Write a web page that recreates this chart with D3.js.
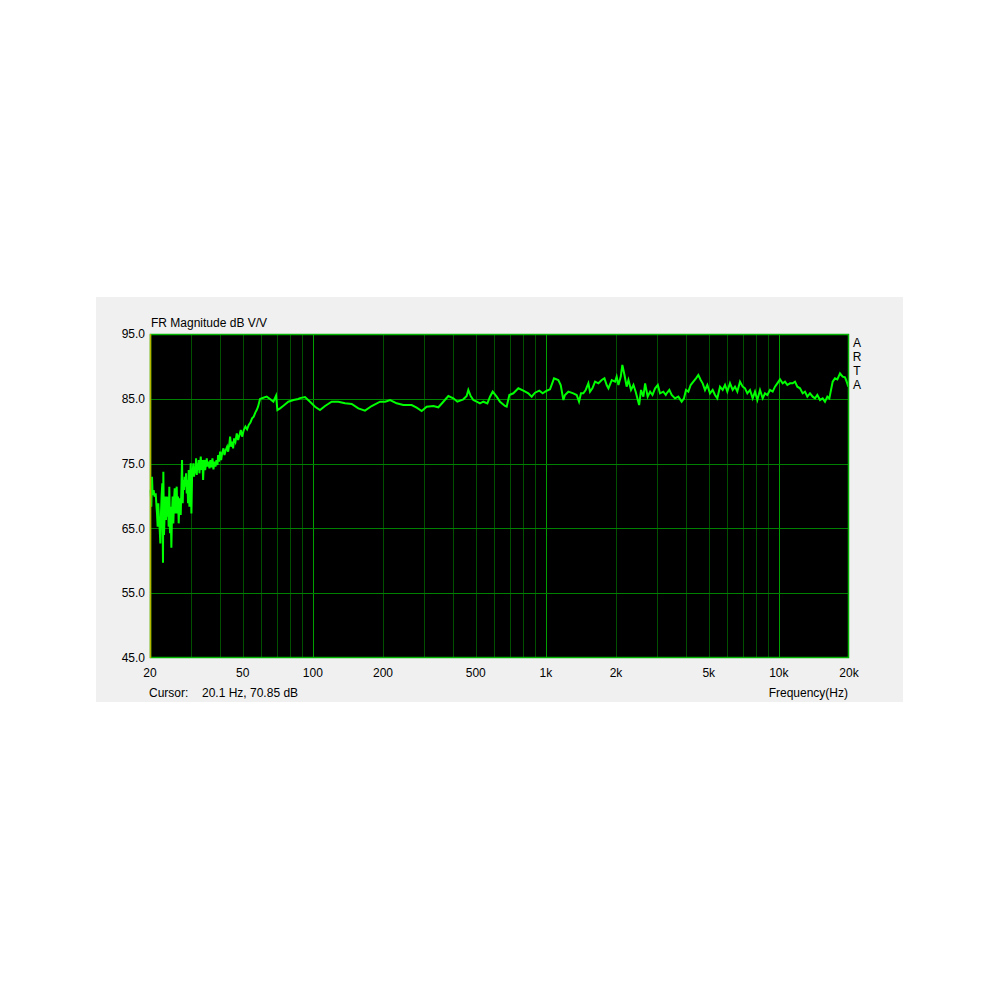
<!DOCTYPE html>
<html>
<head>
<meta charset="utf-8">
<script src="https://cdn.jsdelivr.net/npm/d3@7"></script>
<style>
  body { margin: 0; background: #fff; }
  text { font-family: "Liberation Sans", Arial, sans-serif; font-size: 12px; fill: #000; }
</style>
</head>
<body>
<svg id="chart"></svg>
<script>
// Frequency response (Hz, dB)
const freqs = [
  20.13, 20.26, 20.40, 20.53, 20.73, 20.94, 21.15, 21.43, 21.57, 21.71, 21.86, 22.00, 22.15, 22.29, 22.44, 22.59,
  22.74, 22.82, 22.97, 23.12, 23.27, 23.42, 23.58, 23.74, 23.89, 24.05, 24.21, 24.37, 24.53, 24.70, 24.86, 25.02,
  25.19, 25.36, 25.53, 25.70, 25.87, 26.04, 26.21, 26.38, 26.56, 26.73, 26.91, 27.09, 27.27, 27.45, 27.63, 27.81,
  28.00, 28.18, 28.37, 28.56, 28.75, 28.94, 29.13, 29.32, 29.52, 29.71, 29.91, 30.11, 30.31, 30.51, 30.71, 30.92,
  31.12, 31.33, 31.54, 31.75, 31.95, 32.17, 32.38, 32.59, 32.81, 33.03, 33.25, 33.58, 33.80, 34.03, 34.25, 34.48,
  34.82, 35.05, 35.28, 35.63, 35.99, 36.34, 36.71, 37.07, 37.44, 37.81, 38.19, 38.57, 38.95, 39.21, 39.59, 39.99,
  40.39, 40.79, 41.33, 41.74, 42.29, 42.85, 43.28, 43.85, 44.14, 44.58, 45.02, 45.47, 45.92, 46.53, 47.15, 47.77,
  48.41, 49.05, 49.70, 50.52, 51.36, 52.21, 53.07, 53.95, 54.84, 55.74, 56.67, 57.41, 58.17,
  59.33, 61.31, 63.37, 65.49, 67.70, 69.51, 70.43, 72.32, 74.75, 78.49, 82.53, 86.65,
  88.07, 92.53, 97.22, 102.2, 107.3, 112.8, 120.4, 128.6, 137.4, 146.8, 156.7, 167.4, 178.8, 194.4, 204.3, 214.6,
  228.9, 244.5, 265.5, 279.0, 293.1, 307.9, 328.9, 345.6, 363.1, 381.5, 400.8, 417.0, 442.4, 457.2, 464.8, 475.7,
  488.4, 504.7, 521.6, 539.1, 560.9, 575.8, 591.2, 615.0, 635.6, 667.8, 678.9, 697.1, 725.2, 761.9, 800.5, 841.1,
  869.2, 898.3, 937.6, 969.0, 1008, 1042, 1084, 1131, 1158, 1189,
  1208, 1249, 1312, 1356, 1388, 1415, 1448, 1482, 1522, 1547, 1584, 1626, 1681, 1737, 1784, 1824,
  1856, 1918, 1982, 2013, 2049, 2097, 2129, 2175, 2222, 2262, 2320, 2377, 2429, 2514, 2561, 2621,
  2667, 2735, 2802, 2868, 2944, 3023, 3090, 3193, 3271,
  3300, 3388, 3467, 3583, 3703, 3827, 3916, 3995, 4088, 4183, 4295, 4409, 4512, 4618, 4710, 4820,
  4932, 5064, 5199, 5320, 5444, 5590, 5739, 5873, 6010, 6170, 6335, 6483, 6634, 6811, 6993, 7156,
  7323, 7519, 7720, 7900, 8084, 8300, 8522, 8720, 8924, 9162, 9407, 9626, 9851, 10114, 10384, 10626,
  10874, 11164, 11462, 11730, 12004, 12324, 12653, 12948, 13250, 13604, 13967, 14293, 14626, 15017, 15418, 15777,
  16146, 16468, 16687, 17020, 17417, 17823, 18299, 18788, 19226, 19545, 19870
];
const levels = [
  70.92, 68.35, 72.98, 70.15, 70.92, 69.90, 70.41, 67.32, 65.27, 68.87, 66.30, 65.01, 62.69, 67.32, 70.15, 71.95,
  59.71, 73.75, 63.98, 67.32, 69.90, 66.30, 69.90, 66.81, 69.90, 65.27, 71.44, 64.24, 68.35, 62.03, 67.32, 69.90,
  65.78, 69.38, 71.18, 67.32, 70.15, 71.44, 67.32, 69.90, 65.78, 68.87, 69.64, 67.07, 70.92, 75.55, 68.87, 72.47,
  70.92, 72.98, 71.44, 73.50, 70.41, 72.47, 68.87, 74.01, 68.35, 72.47, 75.04, 67.32, 72.98, 74.01, 75.04, 72.98,
  74.53, 73.50, 75.81, 73.24, 75.04, 74.01, 75.55, 73.50, 74.78, 76.07, 74.01, 75.55, 72.47, 75.04, 75.55, 74.01,
  75.04, 75.81, 74.53, 75.30, 74.27, 75.55, 74.42, 75.81, 74.11, 75.30, 74.53, 75.55, 74.78, 76.33, 75.30, 76.84,
  75.55, 76.58, 77.35, 76.33, 77.10, 77.61, 76.84, 78.13, 79.16, 77.61, 78.38, 77.35, 78.90, 78.38, 79.67, 78.64,
  79.41, 80.18, 79.16, 80.18, 80.70, 80.29, 80.96, 81.32, 81.98, 82.24, 82.91, 83.27, 83.79,
  84.97, 85.17, 85.33, 84.97, 84.55, 85.48, 83.27, 83.53, 83.94, 84.55, 84.81, 84.97,
  85.11, 85.26, 84.55, 83.78, 83.27, 83.89, 84.55, 84.55, 84.30, 84.20, 83.53, 83.17, 83.89, 84.55, 84.55, 84.81,
  84.30, 84.04, 84.04, 83.63, 83.12, 83.78, 83.89, 83.69, 84.55, 85.43, 85.07, 84.55, 84.92, 85.43, 86.36, 85.43,
  84.81, 84.55, 84.30, 84.55, 84.30, 85.33, 86.10, 85.33, 84.55, 83.89, 83.78, 85.59, 85.85, 86.62, 86.25, 85.85,
  85.33, 85.94, 86.25, 85.85, 86.25, 86.46, 88.16, 87.90, 87.13, 84.81,
  85.59, 86.10, 85.84, 85.59, 84.56, 85.84, 85.84, 86.36, 87.39, 86.10, 86.62, 87.65, 87.39, 87.90, 88.16, 87.13,
  86.62, 87.90, 87.65, 88.42, 87.13, 88.42, 90.22, 88.67, 86.87, 87.90, 86.36, 87.13, 86.10, 84.04, 86.36, 85.33,
  87.39, 85.33, 86.10, 85.59, 86.62, 87.13, 85.84, 86.10, 85.59,
  85.84, 86.36, 85.59, 85.07, 85.33, 84.56, 85.07, 86.36, 86.10, 87.13, 87.64, 88.16, 88.67, 87.90, 87.39, 86.36,
  87.13, 85.84, 86.36, 85.59, 85.07, 86.87, 86.36, 87.13, 86.10, 87.39, 86.36, 86.87, 86.10, 87.64, 86.87, 86.62,
  85.84, 86.36, 85.07, 86.10, 84.81, 86.36, 85.07, 85.84, 85.59, 86.36, 86.10, 86.87, 87.39, 88.00, 87.39, 87.64,
  87.13, 87.39, 87.39, 87.64, 86.87, 86.62, 85.84, 86.10, 85.33, 85.84, 85.33, 85.07, 85.59, 84.81, 85.07, 84.56,
  85.33, 85.07, 86.10, 87.64, 88.16, 88.00, 88.93, 88.42, 88.31, 87.64, 86.87
];

const xTicks = [20, 50, 100, 200, 500, 1000, 2000, 5000, 10000, 20000];
const xTickLabels = ["20", "50", "100", "200", "500", "1k", "2k", "5k", "10k", "20k"];
const yTicks = [45, 55, 65, 75, 85, 95];
const decades = [100, 1000, 10000];

const width = 1000, height = 1000;
const plot = { left: 150, right: 849, top: 334, bottom: 658 };

const svg = d3.select("#chart")
  .attr("width", width)
  .attr("height", height)
  .attr("viewBox", [0, 0, width, height]);

// Grey panel
svg.append("rect")
  .attr("x", 96).attr("y", 297)
  .attr("width", 807).attr("height", 405)
  .attr("fill", "#f0f0f0");

let x = d3.scaleLog().domain([20, 20000]).range([plot.left, plot.right]);
let y = d3.scaleLinear().domain([45, 95]).range([plot.bottom, plot.top]);

// Plot background
svg.append("rect")
  .attr("x", plot.left).attr("y", plot.top)
  .attr("width", plot.right - plot.left).attr("height", plot.bottom - plot.top)
  .attr("fill", "#000");

// Vertical grid (1..9 per decade), decades brighter
let gridX = x.ticks().filter((d) => d > 20 && d < 20000);
svg.append("g").selectAll("line").data(gridX).join("line")
  .attr("x1", (d) => Math.round(x(d)) + 0.5)
  .attr("x2", (d) => Math.round(x(d)) + 0.5)
  .attr("y1", plot.top)
  .attr("y2", plot.bottom)
  .attr("stroke", (d) => decades.includes(Math.round(d)) ? "#00a000" : "#005000")
  .attr("stroke-width", 1);

// Horizontal grid
svg.append("g").selectAll("line").data(yTicks.filter((d) => d > 45 && d < 95)).join("line")
  .attr("x1", plot.left)
  .attr("x2", plot.right)
  .attr("y1", (d) => Math.round(y(d)) + 0.5)
  .attr("y2", (d) => Math.round(y(d)) + 0.5)
  .attr("stroke", "#008000")
  .attr("stroke-width", 1);

// Curve
let line = d3.line()
  .x((d, i) => x(freqs[i]))
  .y((d, i) => y(levels[i]));

svg.append("path")
  .datum(freqs)
  .attr("d", line)
  .attr("fill", "none")
  .attr("stroke", "#00ff00")
  .attr("stroke-width", 2)
  .attr("stroke-linejoin", "miter");

// Plot frame
svg.append("rect")
  .attr("x", plot.left + 0.5).attr("y", plot.top + 0.5)
  .attr("width", plot.right - plot.left - 1).attr("height", plot.bottom - plot.top - 1)
  .attr("fill", "none")
  .attr("stroke", "#00b400")
  .attr("stroke-width", 1.5);
svg.append("line")
  .attr("x1", plot.left + 0.5).attr("x2", plot.left + 0.5)
  .attr("y1", plot.top).attr("y2", plot.bottom)
  .attr("stroke", "#b4b400")
  .attr("stroke-width", 1.5);

// Y tick labels
svg.append("g").selectAll("text").data(yTicks).join("text")
  .attr("x", 145)
  .attr("y", (d) => y(d))
  .attr("dy", "0.35em")
  .attr("text-anchor", "end")
  .text((d) => d.toFixed(1));

// X tick labels
svg.append("g").selectAll("text").data(xTicks).join("text")
  .attr("x", (d) => x(d))
  .attr("y", 673)
  .attr("dy", "0.35em")
  .attr("text-anchor", "middle")
  .text((d, i) => xTickLabels[i]);

// Titles
svg.append("text").attr("x", 151).attr("y", 323).attr("dy", "0.35em")
  .text("FR Magnitude dB V/V");
svg.append("text").attr("x", 149).attr("y", 692.5).attr("dy", "0.35em")
  .text("Cursor:");
svg.append("text").attr("x", 202).attr("y", 692.5).attr("dy", "0.35em")
  .text("20.1 Hz, 70.85 dB");
svg.append("text").attr("x", 848).attr("y", 692.5).attr("dy", "0.35em")
  .attr("text-anchor", "end")
  .text("Frequency(Hz)");

// ARTA stacked letters
svg.append("g").selectAll("text").data(["A", "R", "T", "A"]).join("text")
  .attr("x", 857)
  .attr("y", (d, i) => 342.5 + i * 14)
  .attr("dy", "0.35em")
  .attr("text-anchor", "middle")
  .text((d) => d);
</script>
</body>
</html>
